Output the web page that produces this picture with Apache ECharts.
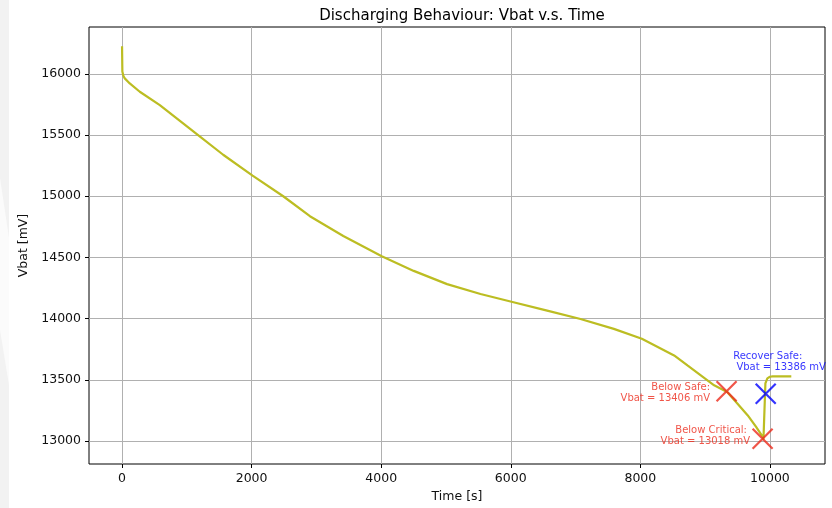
<!DOCTYPE html>
<html>
<head>
<meta charset="utf-8">
<title>Discharging Behaviour</title>
<script src="https://cdn.jsdelivr.net/npm/echarts@6/dist/echarts.min.js"></script>
<style>
  html, body { margin: 0; padding: 0; background: #fff; }
  #main { width: 832px; height: 508px; }
</style>
</head>
<body>
<div id="main"></div>
<script>
// time [s] and battery voltage [mV]
const timeS = [
  0, 5, 20, 42, 119, 274, 583, 1174, 1561, 2015, 2488, 2900, 3415, 4009,
  4502, 5017, 5533, 6011, 6562, 7076, 7591, 8023, 8521, 8727, 8933, 9139,
  9340, 9500, 9655, 9784, 9887, 9900, 9930, 9960, 10000, 10040, 10330,
];
const vbatMv = [
  16225, 16020, 15985, 15963, 15922, 15854, 15745, 15500, 15339, 15168,
  15000, 14837, 14675, 14510, 14390, 14282, 14201, 14138, 14065, 13997,
  13916, 13835, 13699, 13617, 13536, 13455, 13400, 13305, 13211, 13117,
  13036, 13010, 13470, 13512, 13525, 13528, 13528,
];

// threshold events
const eventNames = ["Below Safe:", "Below Critical: ", "Recover Safe:"];
const eventTimes = [9331, 9887, 9935];
const eventVbat = [13406, 13018, 13386];

const xTicks = [0, 2000, 4000, 6000, 8000, 10000];
const yTicks = [13000, 13500, 14000, 14500, 15000, 15500, 16000];

const RED = "#ec2a1c";
const BLUE = "#0000ff";
const crossPath = "path://M0,0L20,20M20,0L0,20";

function eventLabel(i) {
  const lead = i === 2 ? " " : "";
  return eventNames[i] + "\n" + lead + "Vbat = " + eventVbat[i] + " mV";
}

var chartDom = document.getElementById("main");
var myChart = echarts.init(chartDom, null, { renderer: "canvas" });

var curve = timeS.map((t, i) => [t, vbatMv[i]]);
var plain = (v) => String(v);

var option = {
  animation: false,
  textStyle: { fontFamily: "DejaVu Sans" },
  title: {
    text: "Discharging Behaviour: Vbat v.s. Time",
    left: 457,
    top: 4,
    textAlign: "center",
    textStyle: { fontSize: 15, fontWeight: "normal", color: "#000", fontFamily: "DejaVu Sans" },
  },
  graphic: [
    { type: "rect", shape: { x: 0, y: 0, width: 9, height: 508 }, style: { fill: "#f2f2f2" }, z: -10 },
    { type: "polygon", shape: { points: [[0, 178], [9, 238], [9, 385], [0, 330]] }, style: { fill: "#fbfbfb" }, z: -9 },
  ],
  grid: {
    left: 89,
    right: 7,
    top: 27,
    bottom: 43,
    show: true,
    backgroundColor: "#fff",
    borderColor: "#000",
    borderWidth: 1,
  },
  xAxis: {
    type: "value",
    min: -510,
    max: 10850,
    splitNumber: 5,
    name: "Time [s]",
    nameLocation: "middle",
    nameGap: 26,
    nameTextStyle: { fontSize: 12.5, color: "#111" },
    axisLine: { show: false, onZero: false },
    axisTick: { show: true, length: 4, customValues: xTicks, lineStyle: { color: "#000" } },
    axisLabel: { customValues: xTicks, formatter: plain, margin: 8, fontSize: 12.5, color: "#111" },
    splitLine: { show: true, lineStyle: { color: "#b0b0b0", width: 1 } },
  },
  yAxis: {
    type: "value",
    min: 12812,
    max: 16383,
    splitNumber: 7,
    name: "Vbat [mV]",
    nameLocation: "middle",
    nameGap: 57,
    nameTextStyle: { fontSize: 12.5, color: "#111" },
    axisLine: { show: false, onZero: false },
    axisTick: { show: true, length: 4, customValues: yTicks, lineStyle: { color: "#000" } },
    axisLabel: { customValues: yTicks, formatter: plain, margin: 8, fontSize: 12.5, color: "#111" },
    splitLine: { show: true, lineStyle: { color: "#b0b0b0", width: 1 } },
  },
  series: [
    {
      type: "line",
      data: curve,
      showSymbol: false,
      clip: true,
      lineStyle: { color: "#bcbd22", width: 2.2 },
      z: 2,
    },
    {
      type: "scatter",
      symbol: crossPath,
      symbolSize: 20,
      z: 3,
      data: [
        {
          value: [eventTimes[0], eventVbat[0]],
          itemStyle: { color: "none", borderColor: RED, borderWidth: 2.2 },
          label: { show: true, formatter: eventLabel(0), position: "left", distance: 4, offset: [0, 2], align: "right", color: RED },
        },
        {
          value: [eventTimes[1], eventVbat[1]],
          itemStyle: { color: "none", borderColor: RED, borderWidth: 2.2 },
          label: { show: true, formatter: eventLabel(1), position: "left", distance: 0, offset: [0, -3], align: "right", color: RED },
        },
        {
          value: [eventTimes[2], eventVbat[2]],
          itemStyle: { color: "none", borderColor: BLUE, borderWidth: 2.2 },
          label: { show: true, formatter: eventLabel(2), position: [-20, -19], align: "left", verticalAlign: "middle", color: BLUE },
        },
      ],
      label: { fontSize: 10, lineHeight: 11, fontFamily: "DejaVu Sans" },
    },
  ],
};

option && myChart.setOption(option);
</script>
</body>
</html>
